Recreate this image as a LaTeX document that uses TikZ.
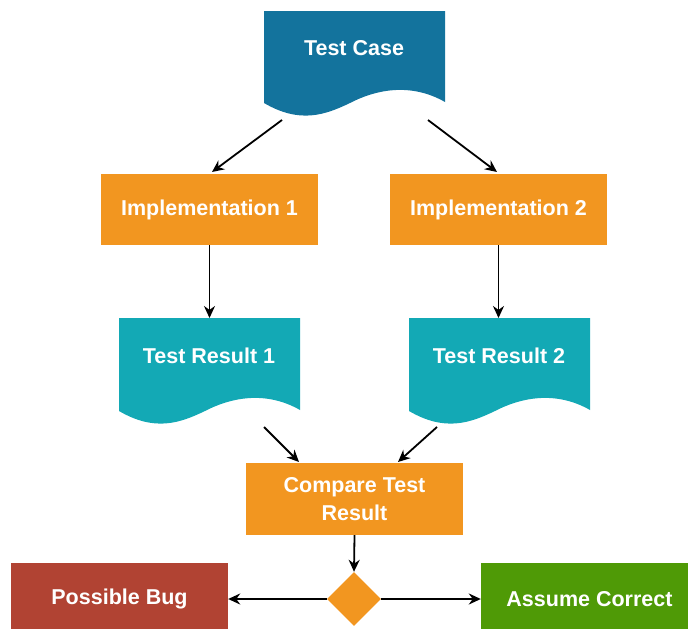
\documentclass[tikz,border=0pt]{standalone}
\usepackage{fontspec}
\setmainfont{Liberation Sans}
\usetikzlibrary{arrows.meta,shapes.geometric}
\definecolor{caseblue}{HTML}{13739D}
\definecolor{steporange}{HTML}{F29620}
\definecolor{resultteal}{HTML}{13A9B5}
\definecolor{bugred}{HTML}{B14333}
\definecolor{okgreen}{HTML}{4F9A06}
\tikzset{
  box/.style={rectangle, minimum width=217pt, minimum height=72pt, inner sep=0pt,
    text=white, font=\fontsize{21.5}{28}\selectfont\bfseries, align=center},
  doclabel/.style={inner sep=0pt, text=white, font=\fontsize{21.5}{28}\selectfont\bfseries},
  flow/.style={-{Stealth[length=12pt,width=11pt]}, line width=1.8pt, black}
}
\begin{document}
\begin{tikzpicture}[x=1pt,y=-1pt]
\useasboundingbox (0,0) rectangle (688,629);
\clip (0,0) rectangle (688,629);

% document shapes with a wavy lower edge
\fill[caseblue] (264,11) -- (445,11) -- (445,102)
  .. controls (410,82) and (375,90) .. (350,103)
  .. controls (325,115) and (300,124) .. (264,103) -- cycle;
\fill[resultteal] (119,318) -- (300,318) -- (300,410)
  .. controls (265,390) and (230,398) .. (205,411)
  .. controls (180,423) and (155,432) .. (119,411) -- cycle;
\fill[resultteal] (409,318) -- (590,318) -- (590,410)
  .. controls (555,390) and (520,398) .. (495,411)
  .. controls (470,423) and (445,432) .. (409,411) -- cycle;

\node[doclabel] (case) at (354,48) {Test Case};
\node[doclabel] (res1) at (209,356) {Test Result 1};
\node[doclabel] (res2) at (499,356) {Test Result 2};
\coordinate (res1top) at (209.5,318);
\coordinate (res2top) at (498.5,318);

% process boxes
\node[box, fill=steporange, minimum height=71pt] (impl1) at (209.5,209.5) {Implementation 1};
\node[box, fill=steporange, minimum height=71pt] (impl2) at (498.5,209.5) {Implementation 2};
\node[box, fill=steporange] (cmp) at (354.5,499) {Compare Test\\Result};
\node[box, fill=bugred] (bug) at (119.5,599) {Possible Bug};
\node[box, fill=okgreen] (ok) at (589.5,599) {Assume Correct};
\node[diamond, fill=steporange, minimum width=54pt, minimum height=54pt, inner sep=0pt] (dec) at (354,599) {};

% connectors
\coordinate (c1) at (282,120);
\coordinate (c2) at (428,120);
\coordinate (r1) at (264,427);
\coordinate (r2) at (437,427);
\draw[flow] (c1) -- (212,172);
\draw[flow] (c2) -- (497,172);
\draw[flow] (impl1.south) -- (res1top);
\draw[flow] (impl2.south) -- (res2top);
\draw[flow] (r1) -- (299,462);
\draw[flow] (r2) -- (398,462);
\draw[flow] (cmp.south) -- (dec.north);
\draw[flow] (dec.west) -- (bug.east);
\draw[flow] (dec.east) -- (ok.west);
\end{tikzpicture}
\end{document}
